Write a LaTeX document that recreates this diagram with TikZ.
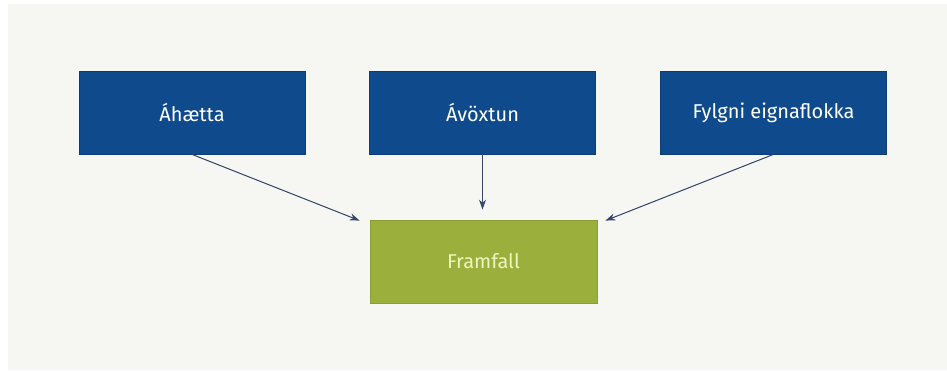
\documentclass[tikz,border=0pt]{standalone}
\usepackage{fontspec}
\usetikzlibrary{arrows.meta}
\setmainfont{Fira Sans}
\definecolor{panel}{HTML}{F6F7F2}
\definecolor{navy}{HTML}{0F4B8C}
\definecolor{navyedge}{HTML}{0B3D72}
\definecolor{olive}{HTML}{9BB03C}
\definecolor{oliveedge}{HTML}{8A9E33}
\definecolor{palegreen}{HTML}{EFF5BE}
\definecolor{arrowgray}{HTML}{34466A}

\begin{document}
\begin{tikzpicture}[x=1pt, y=-1pt, >={Stealth[length=10pt, width=7pt]},
    factor/.style={draw=navyedge, fill=navy, text=white, line width=0.8pt,
        minimum width=226pt, minimum height=83pt, inner sep=0pt,
        font=\fontsize{20}{24}\selectfont},
    outcome/.style={draw=oliveedge, fill=olive, text=palegreen, line width=0.8pt,
        minimum width=227pt, minimum height=83pt, inner sep=0pt,
        font=\fontsize{20}{24}\selectfont},
    link/.style={->, draw=arrowgray, fill=arrowgray, line width=1pt}]
    % Background
    \useasboundingbox (0, 0) rectangle (947, 370);
    \fill[white] (0, 0) rectangle (947, 370);
    \fill[panel] (8, 4) rectangle (947, 370);

    % Factors
    \node[factor] (risk) at (192, 112.5) {Áhætta};
    \node[factor] (yield) at (482.5, 112.5) {Ávöxtun};
    \node[factor] (corr) at (773.5, 112.5) {Fylgni eignaflokka};

    % Result
    \node[outcome] (gain) at (483.5, 261.5) {Framfall};

    % Arrows
    \draw[link] (risk.south) -- ([xshift=-10pt, yshift=-1pt]gain.north west);
    \draw[link] (yield.south) -- ([yshift=10pt]gain.north -| yield.south);
    \draw[link] (corr.south) -- ([xshift=8pt, yshift=-1pt]gain.north east);
\end{tikzpicture}
\end{document}
